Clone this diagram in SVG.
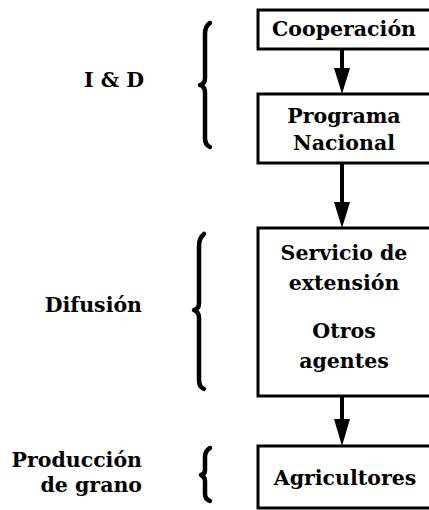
<svg xmlns="http://www.w3.org/2000/svg" width="429" height="510" viewBox="0 0 429 510">
<defs>
<style>
.box{fill:#fff;stroke:#000;stroke-width:3}
.t{font-family:"DejaVu Serif",serif;font-weight:bold;font-size:20.5px;fill:#000}
.c{text-anchor:middle}
.r{text-anchor:end}
.br{fill:none;stroke:#000;stroke-width:4.5;stroke-linecap:round;stroke-linejoin:round}
.ln{stroke:#000;stroke-width:4}
.hd{fill:#000}
</style>
</defs>
<rect width="429" height="510" fill="#fff"/>
<g id="connectors">
<line class="ln" x1="342" y1="49" x2="342" y2="70"/><path class="hd" d="M334,68 L350,68 L342,94 Z"/>
<line class="ln" x1="342" y1="163" x2="342" y2="204"/><path class="hd" d="M334,202 L350,202 L342,228 Z"/>
<line class="ln" x1="342" y1="396" x2="342" y2="421"/><path class="hd" d="M334,419 L350,419 L342,446 Z"/>
</g>
<g id="cooperacion">
<rect class="box" x="258" y="10" width="190" height="39"/>
<text class="t c" x="344" y="36">Cooperación</text>
</g>
<g id="programa">
<rect class="box" x="258" y="94" width="190" height="69"/>
<text class="t c" x="344" y="123">Programa</text>
<text class="t c" x="344" y="150">Nacional</text>
</g>
<g id="servicio">
<rect class="box" x="258" y="228" width="190" height="168"/>
<text class="t c" x="344" y="260">Servicio de</text>
<text class="t c" x="344" y="290">extensión</text>
<text class="t c" x="344" y="338">Otros</text>
<text class="t c" x="344" y="368">agentes</text>
</g>
<g id="agricultores">
<rect class="box" x="258" y="446" width="190" height="62"/>
<text class="t c" x="345" y="485">Agricultores</text>
</g>
<g id="id">
<path class="br" d="M210,23 Q205,26 205,34 L205,78 Q205,84 200,85 Q205,87 205,92 L205,138 Q205,145 210,147"/>
<text class="t c" x="114" y="87">I &amp; D</text>
</g>
<g id="difusion">
<path class="br" d="M204,234 Q199,238 199,246 L199,303 Q199,309 194,310 Q199,312 199,318 L199,380 Q199,387 204,389"/>
<text class="t r" x="142" y="312">Difusión</text>
</g>
<g id="produccion">
<path class="br" d="M210,448 Q205,451 205,457 L205,470 Q205,474 201,475 Q205,477 205,481 L205,494 Q205,499 210,501"/>
<text class="t r" x="142" y="467">Producción</text>
<text class="t r" x="142" y="492">de grano</text>
</g>
</svg>
